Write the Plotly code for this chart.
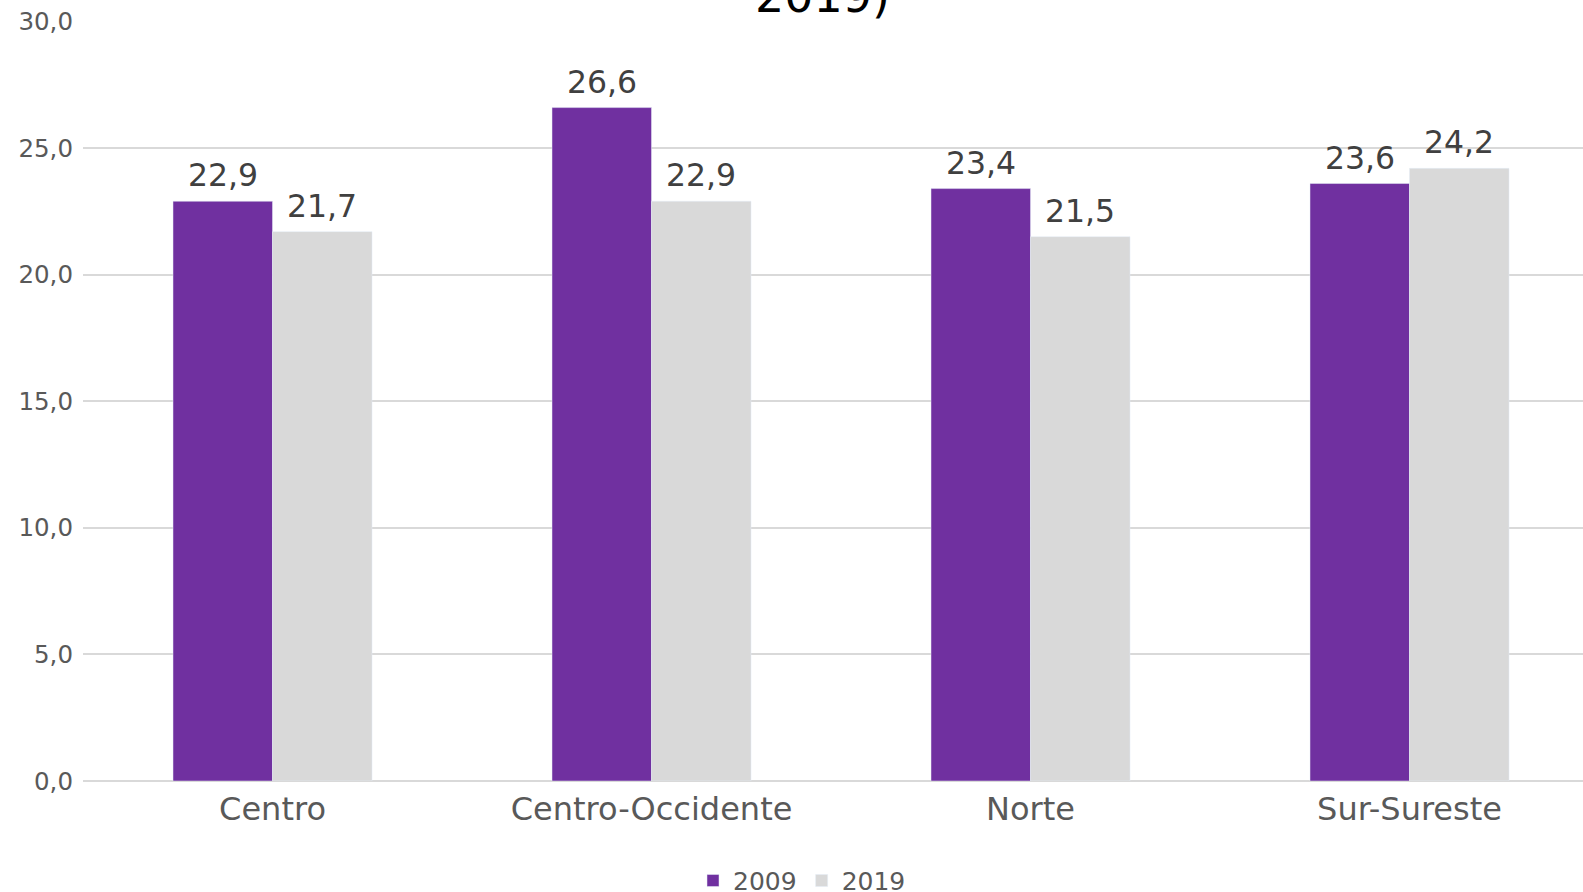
import plotly.graph_objects as go

categories = ["Centro", "Centro-Occidente", "Norte", "Sur-Sureste"]
values_2009 = [22.9, 26.6, 23.4, 23.6]
values_2019 = [21.7, 22.9, 21.5, 24.2]
y_ticks = [0, 5, 10, 15, 20, 25, 30]

W, H = 1599, 892
ml, mr, mt, mb = 83, 0, 21, 111
PW = W - ml - mr
BAR_HALF = 49.8
LABEL_FONT = dict(size=31.5, color="#404040", family="DejaVu Sans")

fig = go.Figure()
fig.add_bar(name="2009", x=categories, y=values_2009, marker_color="#7030A0",
            hoverinfo="x+y")
fig.add_bar(name="2019", x=categories, y=values_2019, marker_color="#D9D9D9",
            hoverinfo="x+y")

for vals, shift in ((values_2009, -BAR_HALF), (values_2019, BAR_HALF)):
    for cat, v in zip(categories, vals):
        fig.add_annotation(x=cat, y=v, xref="x", yref="y",
                           text=f"{v:.1f}".replace(".", ","),
                           xshift=shift, yshift=6, xanchor="center",
                           yanchor="bottom", showarrow=False,
                           font=LABEL_FONT)

fig.add_annotation(text="2019)", xref="paper", yref="paper",
                   x=(822 - ml) / PW, y=1 - 4 / (H - mt - mb),
                   xanchor="center", yanchor="bottom", showarrow=False,
                   font=dict(size=46, color="#000000", family="DejaVu Sans"))

fig.update_layout(
    width=W, height=H,
    margin=dict(l=ml, r=mr, t=mt, b=mb, pad=0, autoexpand=False),
    paper_bgcolor="white", plot_bgcolor="white",
    separators=",.",
    barmode="group", bargap=0.475, bargroupgap=0,
    font=dict(family="DejaVu Sans", color="#595959"),
    showlegend=True,
    legend=dict(orientation="h", x=(802 - ml) / PW, xanchor="center",
                y=-0.101, yanchor="top", font=dict(size=25, color="#595959"),
                itemwidth=30, traceorder="normal"),
)
fig.update_xaxes(showgrid=False, showline=False, ticks="",
                 ticklabelstandoff=6,
                 tickfont=dict(size=32, color="#595959"))
fig.update_yaxes(range=[0, 30.02], tickvals=y_ticks, tickformat=".1f",
                 showgrid=True, gridcolor="#D9D9D9", gridwidth=2,
                 zeroline=True, zerolinecolor="#D9D9D9", zerolinewidth=2,
                 showline=False, ticks="", ticklabelstandoff=9,
                 tickfont=dict(size=24.5, color="#595959"))

fig.write_html("out.html", config={"displayModeBar": False},
               post_script="document.body.style.margin='0';"
                           "document.body.style.overflow='hidden';"
                           "document.documentElement.style.overflow='hidden';")
